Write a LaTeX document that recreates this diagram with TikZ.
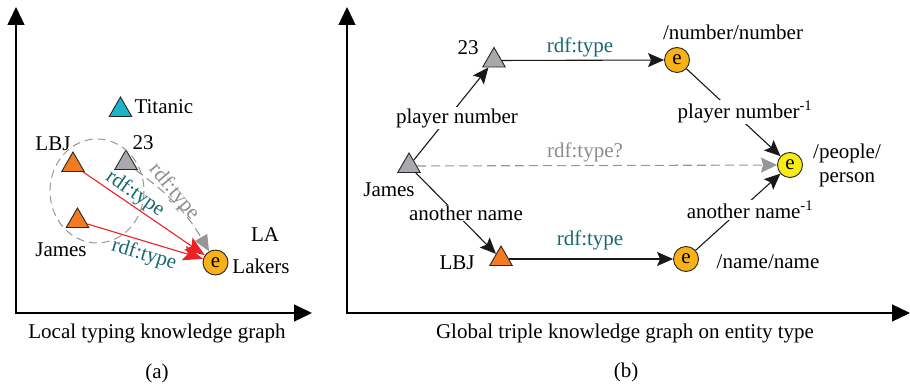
\documentclass[tikz,border=0pt]{standalone}
\usepackage{fontspec}
\setmainfont{Liberation Serif}
\usetikzlibrary{arrows.meta,shapes.geometric}

\definecolor{tealtxt}{RGB}{24,104,114}
\definecolor{graytxt}{RGB}{140,140,142}
\definecolor{grayfill}{RGB}{167,169,172}
\definecolor{orangefill}{RGB}{242,122,33}
\definecolor{cyanfill}{RGB}{28,180,200}
\definecolor{entfill}{RGB}{249,177,22}
\definecolor{yellowfill}{RGB}{247,236,20}
\definecolor{redline}{RGB}{237,32,36}
\definecolor{dashgray}{RGB}{150,150,152}

\begin{document}
\begin{tikzpicture}[x=1pt,y=-1pt,
  font=\fontsize{21}{24}\selectfont,
  tri/.style={regular polygon,regular polygon sides=3,minimum size=26pt,
    inner sep=0pt,draw=black!85,line width=0.9pt},
  ent/.style={circle,minimum size=25pt,inner sep=0pt,draw=black!85,
    line width=0.9pt,fill=entfill},
  axis/.style={line width=1.3pt,line join=miter,
    {Triangle[length=18pt,width=17pt]}-{Triangle[length=18pt,width=17pt]}},
  rel/.style={line width=1.1pt,black!90,
    -{Stealth[length=16pt,width=14pt,inset=3pt]}},
  redrel/.style={line width=1.1pt,redline,
    -{Stealth[length=20pt,width=15pt,inset=4pt]}},
  guess/.style={line width=1.1pt,dashgray,dash pattern=on 9pt off 5pt,
    -{Stealth[length=16pt,width=15pt,inset=2pt]}},
  cut/.style={fill=white,inner sep=1pt},
  typelbl/.style={text=tealtxt,inner sep=1pt},
  guesslbl/.style={text=graytxt,inner sep=1pt}]

\useasboundingbox (0,0) rectangle (910,387);

% ---------------- (a) local typing knowledge graph ----------------
\coordinate (aY) at (16,7);
\coordinate (aO) at (16,313);
\coordinate (aX) at (312,313);
\draw[axis] (aY) -- (aO) -- (aX);

\node[tri,fill=cyanfill] (titanic) at (120.5,110) {};
\node[anchor=west] (titanicL) at (131,107) {Titanic};
\node[tri,fill=orangefill] (lbjA) at (73,165) {};
\node (lbjAL) at (53,144) {LBJ};
\node[tri,fill=grayfill] (numA) at (126,163) {};
\node (numAL) at (143,143) {23};
\node[tri,fill=orangefill] (jamesA) at (77.5,221) {};
\node (jamesAL) at (61,250) {James};
\node[ent] (lakers) at (215.5,262.5) {e};
\node (laL) at (265,235) {LA};
\node (lakersL) at (261,266) {Lakers};

% cluster of aliases
\draw[dashgray,line width=1pt,dash pattern=on 8pt off 5pt]
  (97,191) ellipse [x radius=47,y radius=52];

\draw[guess,-{Triangle[length=16pt,width=14pt]}] (numA) to[bend left=12] (lakers);
\draw[redrel] (lbjA) -- (lakers);
\draw[redrel] (jamesA) -- (lakers);

\node[typelbl,rotate=-35] (tA1) at (135,194) {rdf:type};
\node[typelbl,rotate=-17] (tA2) at (144,255) {rdf:type};
\node[guesslbl,rotate=-50] (tA3) at (174,192) {rdf:type};

\node (capA) at (157,333) {Local typing knowledge graph};
\node (subA) at (157,373) {(a)};

% ---------------- (b) global triple knowledge graph ----------------
\coordinate (bY) at (347,7);
\coordinate (bO) at (347,313);
\coordinate (bX) at (910,313);
\draw[axis] (bY) -- (bO) -- (bX);

\node[tri,fill=grayfill] (numB) at (494,60.5) {};
\node (numBL) at (468,48) {23};
\node[tri,fill=grayfill] (jamesB) at (409,166) {};
\node (jamesBL) at (389,190) {James};
\node[tri,fill=orangefill] (lbjB) at (501,259) {};
\node (lbjBL) at (457,263) {LBJ};

\node[ent] (numE) at (677,60) {e};
\node (numEL) at (733,32) {/number/number};
\node[ent,fill=yellowfill] (personE) at (790,165) {e};
\node[align=center] (personEL) at (847,165) {/people/\\person};
\node[ent] (nameE) at (686,259) {e};
\node (nameEL) at (768,262) {/name/name};

\draw[rel] (jamesB) -- (numB);
\draw[rel] (jamesB) -- (lbjB);
\draw[rel] (numB) -- (numE);
\draw[rel] (lbjB) -- (nameE);
\draw[rel] (numE) -- (personE);
\draw[rel] (nameE) -- (personE);
\draw[guess] (jamesB) -- (personE);

\node[cut] (r1) at (457,118) {player number};
\node[cut] (r2) at (466,213) {another name};
\node[cut] (r3) at (745,112) {player number\textsuperscript{-1}};
\node[cut] (r4) at (750,210) {another name\textsuperscript{-1}};
\node[typelbl] (tB1) at (580,47) {rdf:type};
\node[typelbl] (tB2) at (590,240) {rdf:type};
\node[guesslbl] (tB3) at (585,152) {rdf:type?};

\node (capB) at (625,333) {Global triple knowledge graph on entity type};
\node (subB) at (626,372) {(b)};
\end{tikzpicture}
\end{document}
